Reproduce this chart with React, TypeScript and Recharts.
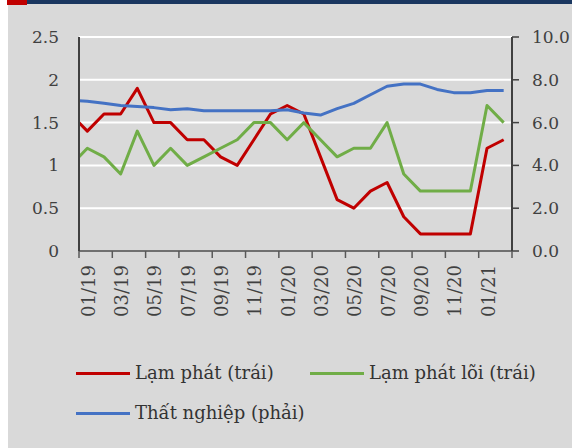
import React from 'react';
import { LineChart, Line, XAxis, YAxis, CartesianGrid, Legend } from 'recharts';

// month labels; the first one (12/18) sits just outside the plot and is clipped
const months = [
  '12/18',
  '01/19', '02/19', '03/19', '04/19', '05/19', '06/19', '07/19', '08/19', '09/19', '10/19', '11/19', '12/19',
  '01/20', '02/20', '03/20', '04/20', '05/20', '06/20', '07/20', '08/20', '09/20', '10/20', '11/20', '12/20',
  '01/21', '02/21',
];

const inflation = [
  1.6,
  1.4, 1.6, 1.6, 1.9, 1.5, 1.5, 1.3, 1.3, 1.1, 1.0, 1.3, 1.6,
  1.7, 1.6, 1.1, 0.6, 0.5, 0.7, 0.8, 0.4, 0.2, 0.2, 0.2, 0.2,
  1.2, 1.3,
];

const coreInflation = [
  1.0,
  1.2, 1.1, 0.9, 1.4, 1.0, 1.2, 1.0, 1.1, 1.2, 1.3, 1.5, 1.5,
  1.3, 1.5, 1.3, 1.1, 1.2, 1.2, 1.5, 0.9, 0.7, 0.7, 0.7, 0.7,
  1.7, 1.5,
];

const unemployment = [
  7.05,
  7.0, 6.9, 6.8, 6.75, 6.7, 6.6, 6.65, 6.55, 6.55, 6.55, 6.55, 6.55,
  6.6, 6.45, 6.35, 6.65, 6.9, 7.3, 7.7, 7.8, 7.8, 7.55, 7.4, 7.4,
  7.5, 7.5,
];

const leftTicks = [0, 0.5, 1, 1.5, 2, 2.5];
const rightTicks = [0, 2, 4, 6, 8, 10];

const data = months.map((m, i) => ({
  idx: i,
  month: m,
  inflation: inflation[i],
  core: coreInflation[i],
  unemployment: unemployment[i],
}));

const CHART_W = 564;
const CHART_H = 448;
const LEFT_W = 71;
const RIGHT_W = 60;
const FONT = '"DejaVu Serif", serif';
const TEXT = '#404040';

// tick marks sit on category boundaries, every second month
const xTicks = Array.from({ length: 14 }, (_, k) => 0.5 + 2 * k);
const HALF = (CHART_W - LEFT_W - RIGHT_W) / (months.length - 1) / 2;

const XTick = (props: any) => {
  const { x, y, payload } = props;
  const label = months[payload.value + 0.5];
  const lx = x + HALF + 1;
  const ly = y + 14;
  return (
    <g>
      <line x1={x} y1={y} x2={x} y2={y + 7} stroke="#595959" strokeWidth={1.5} />
      {label && (
        <text
          x={lx}
          y={ly}
          transform={`rotate(-90 ${lx} ${ly})`}
          textAnchor="end"
          dominantBaseline="central"
          fill={TEXT}
          fontSize={18}
          fontFamily={FONT}
        >
          {label}
        </text>
      )}
    </g>
  );
};

const renderLegend = (props: any) => {
  const { payload } = props;
  return (
    <div
      style={{
        display: 'grid',
        gridTemplateColumns: '234px auto',
        gridTemplateRows: '26px 26px',
        rowGap: 14,
        paddingLeft: 68,
        height: 66,
        boxSizing: 'border-box',
      }}
    >
      {payload.map((entry: any) => (
        <div key={entry.value} style={{ display: 'flex', alignItems: 'center' }}>
          <span style={{ width: 54, height: 3, background: entry.color, marginRight: 5, flex: 'none' }} />
          <span style={{ fontFamily: FONT, fontSize: 18, color: '#333', lineHeight: '26px', whiteSpace: 'nowrap' }}>
            {entry.value}
          </span>
        </div>
      ))}
    </div>
  );
};

const App = () => {
  return (
    <div style={{ position: 'relative', width: 572, height: 448, background: '#fff', overflow: 'hidden' }}>
      <style>{'body{margin:0}'}</style>
      <div style={{ position: 'absolute', left: 8, top: 0, width: CHART_W, height: CHART_H, background: '#d9d9d9' }}>
        <LineChart width={CHART_W} height={CHART_H} data={data} margin={{ top: 37, right: 0, bottom: 22, left: 0 }}>
          <CartesianGrid yAxisId="left" vertical={false} stroke="#ffffff" strokeWidth={2} />
          <XAxis
            dataKey="idx"
            type="number"
            domain={[0.5, 26.5]}
            allowDataOverflow
            ticks={xTicks}
            interval={0}
            height={109}
            tickSize={0}
            tickMargin={0}
            tickLine={false}
            axisLine={{ stroke: '#404040', strokeWidth: 1.5 }}
            tick={<XTick />}
          />
          <YAxis
            yAxisId="left"
            domain={[0, 2.5]}
            ticks={leftTicks}
            width={LEFT_W}
            tickLine={false}
            tickSize={0}
            tickMargin={20}
            axisLine={{ stroke: '#404040', strokeWidth: 2 }}
            tick={{ fill: TEXT, fontSize: 17, fontFamily: FONT }}
          />
          <YAxis
            yAxisId="right"
            orientation="right"
            domain={[0, 10]}
            ticks={rightTicks}
            width={RIGHT_W}
            tickFormatter={(v: number) => v.toFixed(1)}
            tickSize={7}
            tickMargin={13}
            tickLine={{ stroke: '#404040', strokeWidth: 1.5 }}
            axisLine={{ stroke: '#404040', strokeWidth: 2 }}
            tick={{ fill: TEXT, fontSize: 17, fontFamily: FONT }}
          />
          <Line
            yAxisId="left"
            type="linear"
            dataKey="inflation"
            name="Lạm phát (trái)"
            stroke="#c00000"
            strokeWidth={3}
            strokeLinejoin="round"
            dot={false}
            isAnimationActive={false}
          />
          <Line
            yAxisId="left"
            type="linear"
            dataKey="core"
            name="Lạm phát lõi (trái)"
            stroke="#70ad47"
            strokeWidth={3}
            strokeLinejoin="round"
            dot={false}
            isAnimationActive={false}
          />
          <Line
            yAxisId="right"
            type="linear"
            dataKey="unemployment"
            name="Thất nghiệp (phải)"
            stroke="#4472c4"
            strokeWidth={3}
            strokeLinejoin="round"
            dot={false}
            isAnimationActive={false}
          />
          <Legend verticalAlign="bottom" align="left" content={renderLegend} />
        </LineChart>
        <div style={{ position: 'absolute', left: 0, top: 0, width: CHART_W, height: 4, background: '#1a3760' }} />
        <div style={{ position: 'absolute', left: -1, top: 0, width: 20, height: 5, background: '#c00000' }} />
      </div>
    </div>
  );
};

export default App;
